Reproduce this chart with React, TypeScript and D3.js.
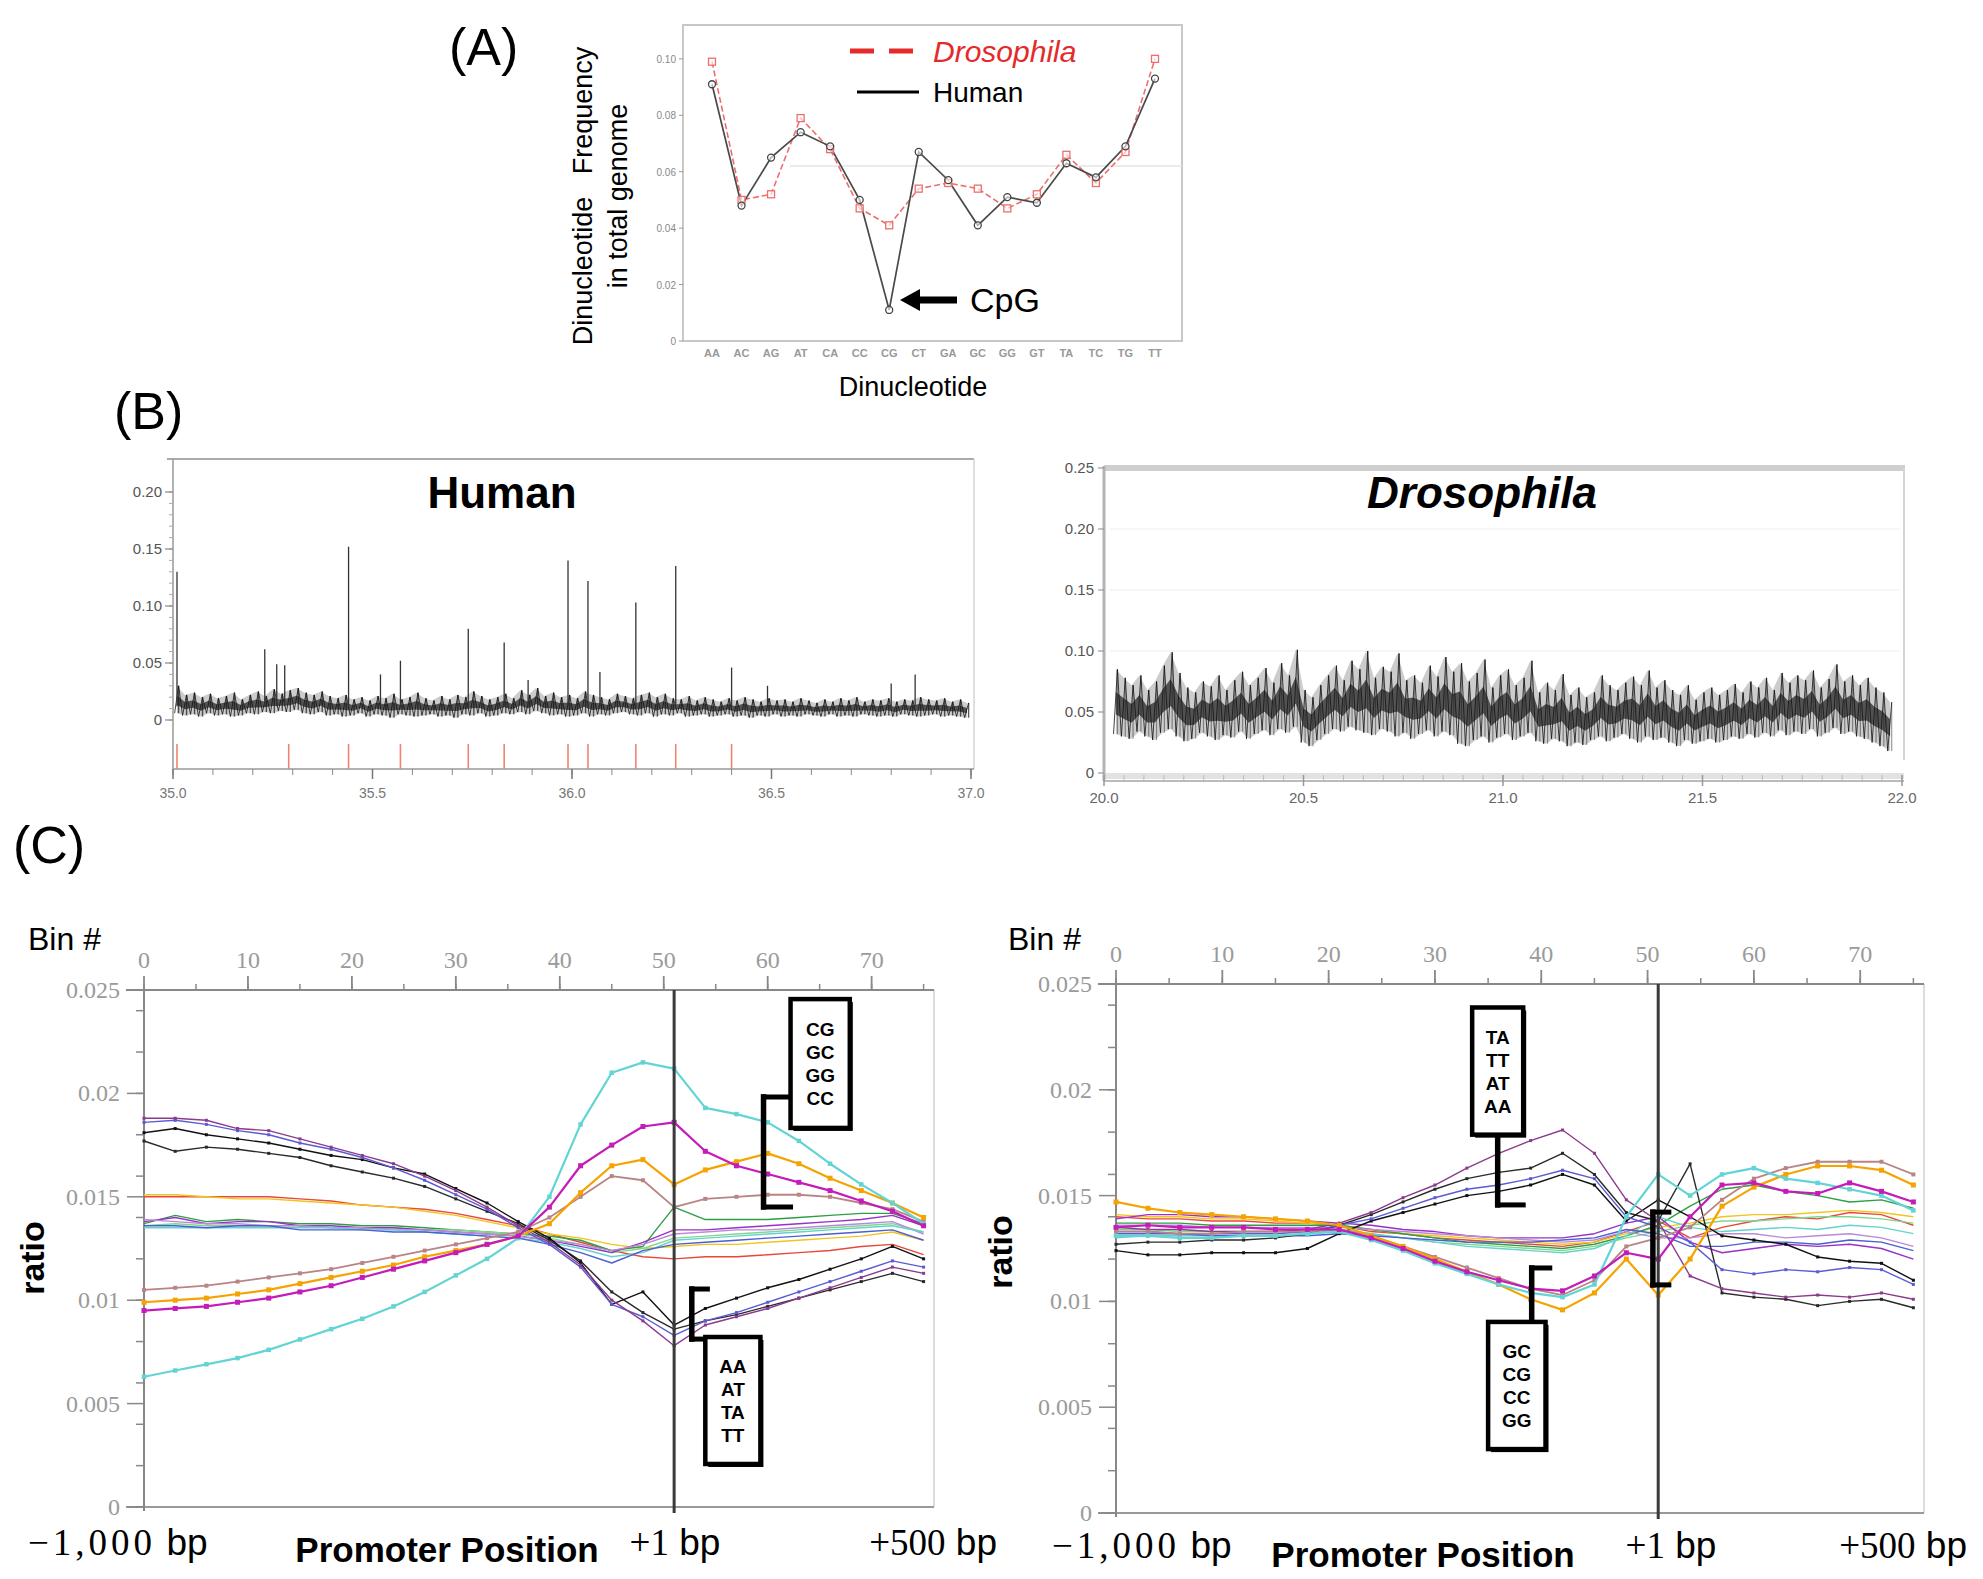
import { useEffect, useRef } from "react"
import * as d3 from "d3"

const W = 1983
const H = 1579
const SANS = "'Liberation Sans', Arial, Helvetica, sans-serif"
const SERIF = "'Liberation Serif', 'Times New Roman', serif"

// ---------- (A) dinucleotide frequency in total genome
const dinucleotides = ["AA", "AC", "AG", "AT", "CA", "CC", "CG", "CT", "GA", "GC", "GG", "GT", "TA", "TC", "TG", "TT"]
const humanGenomeFreq = [0.091, 0.048, 0.065, 0.074, 0.069, 0.05, 0.011, 0.067, 0.057, 0.041, 0.051, 0.049, 0.063, 0.058, 0.069, 0.093]
const flyGenomeFreq = [0.099, 0.05, 0.052, 0.079, 0.068, 0.047, 0.041, 0.054, 0.056, 0.054, 0.047, 0.052, 0.066, 0.056, 0.067, 0.1]
const freqTicks = [0, 0.02, 0.04, 0.06, 0.08, 0.1]
const freqTickLabels = ["0", "0.02", "0.04", "0.06", "0.08", "0.10"]

// ---------- (B) CpG ratio along chromosome (binned min / max of the trace)
const humanMbTicks = [35.0, 35.5, 36.0, 36.5, 37.0]
const humanRatioTicks = [0, 0.05, 0.1, 0.15, 0.2]
const humanTraceHi = [
    0.030, 0.022, 0.024, 0.020, 0.023, 0.019, 0.021, 0.024, 0.018, 0.022,
    0.025, 0.021, 0.027, 0.023, 0.026, 0.028, 0.024, 0.022, 0.025, 0.021,
    0.019, 0.022, 0.018, 0.020, 0.017, 0.021, 0.019, 0.023, 0.018, 0.020,
    0.024, 0.019, 0.017, 0.021, 0.018, 0.022, 0.020, 0.025, 0.021, 0.018,
    0.020, 0.023, 0.019, 0.026, 0.022, 0.028, 0.021, 0.024, 0.020, 0.022,
    0.019, 0.025, 0.022, 0.020, 0.018, 0.023, 0.021, 0.019, 0.022, 0.024,
    0.020, 0.023, 0.019, 0.018, 0.021, 0.017, 0.020, 0.018, 0.016, 0.019,
    0.017, 0.020, 0.018, 0.016, 0.019, 0.017, 0.018, 0.016, 0.019, 0.017,
    0.015, 0.018, 0.016, 0.019, 0.017, 0.020, 0.016, 0.018, 0.017, 0.019,
    0.016, 0.018, 0.017, 0.020, 0.018, 0.017, 0.019, 0.016, 0.018, 0.015,
]
const humanTraceLo = [
    0.006, 0.004, 0.005, 0.003, 0.006, 0.004, 0.005, 0.003, 0.004, 0.006,
    0.005, 0.007, 0.006, 0.008, 0.007, 0.009, 0.006, 0.005, 0.007, 0.004,
    0.005, 0.003, 0.004, 0.006, 0.003, 0.005, 0.004, 0.002, 0.005, 0.004,
    0.003, 0.004, 0.005, 0.003, 0.004, 0.002, 0.005, 0.004, 0.006, 0.003,
    0.004, 0.006, 0.005, 0.007, 0.005, 0.008, 0.006, 0.004, 0.005, 0.003,
    0.004, 0.006, 0.003, 0.005, 0.004, 0.006, 0.007, 0.005, 0.004, 0.006,
    0.003, 0.005, 0.004, 0.006, 0.003, 0.004, 0.005, 0.003, 0.004, 0.005,
    0.003, 0.004, 0.002, 0.004, 0.003, 0.005, 0.003, 0.004, 0.003, 0.005,
    0.004, 0.003, 0.005, 0.003, 0.004, 0.003, 0.005, 0.004, 0.003, 0.004,
    0.003, 0.005, 0.004, 0.003, 0.004, 0.005, 0.003, 0.004, 0.003, 0.002,
]
const humanSpikeMb = [35.01, 35.23, 35.26, 35.28, 35.44, 35.52, 35.57, 35.74, 35.83, 35.89, 35.99, 36.04, 36.07, 36.16, 36.26, 36.4, 36.49, 36.8, 36.86]
const humanSpikeRatio = [0.13, 0.062, 0.049, 0.048, 0.152, 0.04, 0.052, 0.08, 0.068, 0.035, 0.14, 0.122, 0.042, 0.103, 0.135, 0.046, 0.03, 0.032, 0.04]
const humanIslandMb = [35.01, 35.29, 35.44, 35.57, 35.74, 35.83, 35.99, 36.04, 36.16, 36.26, 36.4]

const flyMbTicks = [20.0, 20.5, 21.0, 21.5, 22.0]
const flyRatioTicks = [0, 0.05, 0.1, 0.15, 0.2, 0.25]
const flyTraceHi = [
    0.085, 0.078, 0.072, 0.080, 0.068, 0.075, 0.088, 0.099, 0.082, 0.070,
    0.066, 0.075, 0.071, 0.080, 0.068, 0.076, 0.083, 0.072, 0.078, 0.086,
    0.074, 0.090, 0.080, 0.101, 0.068, 0.062, 0.072, 0.080, 0.088, 0.076,
    0.092, 0.085, 0.100, 0.078, 0.087, 0.083, 0.098, 0.076, 0.080, 0.074,
    0.088, 0.079, 0.095, 0.083, 0.090, 0.075, 0.082, 0.093, 0.070, 0.080,
    0.085, 0.072, 0.078, 0.092, 0.066, 0.074, 0.068, 0.081, 0.064, 0.070,
    0.062, 0.066, 0.080, 0.072, 0.068, 0.074, 0.079, 0.072, 0.084, 0.070,
    0.076, 0.068, 0.064, 0.072, 0.060, 0.066, 0.070, 0.064, 0.068, 0.073,
    0.066, 0.075, 0.070, 0.078, 0.068, 0.082, 0.074, 0.080, 0.076, 0.084,
    0.070, 0.077, 0.089, 0.075, 0.080, 0.072, 0.078, 0.070, 0.066, 0.058,
]
const flyTraceLo = [
    0.032, 0.030, 0.028, 0.034, 0.030, 0.027, 0.033, 0.036, 0.030, 0.026,
    0.028, 0.033, 0.030, 0.027, 0.031, 0.029, 0.034, 0.028, 0.032, 0.035,
    0.031, 0.036, 0.033, 0.038, 0.025, 0.022, 0.027, 0.032, 0.036, 0.034,
    0.038, 0.035, 0.033, 0.031, 0.036, 0.034, 0.030, 0.033, 0.028, 0.032,
    0.035, 0.030, 0.034, 0.031, 0.024, 0.022, 0.027, 0.030, 0.025, 0.029,
    0.032, 0.027, 0.030, 0.033, 0.026, 0.024, 0.028, 0.026, 0.022, 0.025,
    0.023, 0.027, 0.030, 0.026, 0.029, 0.032, 0.028, 0.025, 0.030, 0.027,
    0.029, 0.025, 0.022, 0.027, 0.024, 0.026, 0.028, 0.025, 0.027, 0.030,
    0.028, 0.032, 0.029, 0.033, 0.030, 0.035, 0.031, 0.034, 0.032, 0.036,
    0.030, 0.033, 0.037, 0.032, 0.034, 0.030, 0.028, 0.025, 0.022, 0.018,
]

// ---------- (C) dinucleotide ratio across promoter bins
const bins = [0, 3, 6, 9, 12, 15, 18, 21, 24, 27, 30, 33, 36, 39, 42, 45, 48, 51, 54, 57, 60, 63, 66, 69, 72, 75]
const binTicks = [0, 10, 20, 30, 40, 50, 60, 70]
const ratioTicks = [0, 0.005, 0.01, 0.015, 0.02, 0.025]
const ratioTickLabels = ["0", "0.005", "0.01", "0.015", "0.02", "0.025"]
const tssBin = 51

const humanTT = [0.0188, 0.0188, 0.0187, 0.0183, 0.0182, 0.0178, 0.0174, 0.017, 0.0166, 0.016, 0.0153, 0.0145, 0.0136, 0.0128, 0.0117, 0.01, 0.009, 0.0078, 0.0088, 0.0092, 0.0096, 0.0101, 0.0106, 0.0111, 0.0116, 0.0113]
const humanAA = [0.0186, 0.0187, 0.0185, 0.0182, 0.018, 0.0176, 0.0173, 0.0169, 0.0164, 0.0158, 0.0151, 0.0144, 0.0135, 0.0127, 0.0116, 0.0098, 0.0092, 0.0083, 0.009, 0.0094, 0.0099, 0.0104, 0.0109, 0.0114, 0.0119, 0.0116]
const humanAT = [0.0181, 0.0183, 0.018, 0.0178, 0.0176, 0.0173, 0.017, 0.0168, 0.0164, 0.0161, 0.0154, 0.0147, 0.0138, 0.013, 0.0118, 0.0098, 0.0104, 0.0088, 0.0096, 0.0101, 0.0106, 0.011, 0.0115, 0.012, 0.0126, 0.012]
const humanTA = [0.0177, 0.0172, 0.0174, 0.0173, 0.0171, 0.0169, 0.0165, 0.0162, 0.0159, 0.0155, 0.0149, 0.0143, 0.0137, 0.0129, 0.0119, 0.0104, 0.0094, 0.0086, 0.009, 0.0093, 0.0097, 0.0101, 0.0105, 0.0109, 0.0113, 0.0109]
const humanCA = [0.015, 0.015, 0.015, 0.015, 0.015, 0.0149, 0.0148, 0.0146, 0.0145, 0.0144, 0.0142, 0.0139, 0.0136, 0.0132, 0.0128, 0.0124, 0.0121, 0.012, 0.0121, 0.0121, 0.0122, 0.0123, 0.0124, 0.0126, 0.0127, 0.0122]
const humanTG = [0.0151, 0.0151, 0.015, 0.0149, 0.0149, 0.0148, 0.0147, 0.0146, 0.0145, 0.0143, 0.0141, 0.0138, 0.0135, 0.0132, 0.013, 0.0127, 0.0125, 0.0126, 0.0127, 0.0127, 0.0128, 0.0129, 0.013, 0.0131, 0.0133, 0.0129]
const humanAG = [0.0137, 0.0141, 0.0138, 0.0139, 0.0138, 0.0137, 0.0137, 0.0136, 0.0136, 0.0135, 0.0134, 0.0133, 0.0132, 0.0131, 0.0129, 0.0124, 0.0126, 0.0145, 0.0139, 0.0139, 0.0139, 0.014, 0.0141, 0.0142, 0.0142, 0.0137]
const humanCT = [0.0136, 0.0137, 0.0136, 0.0136, 0.0136, 0.0136, 0.0135, 0.0135, 0.0135, 0.0134, 0.0134, 0.0133, 0.0132, 0.013, 0.0127, 0.0123, 0.0125, 0.013, 0.0131, 0.0132, 0.0133, 0.0134, 0.0135, 0.0136, 0.0137, 0.0133]
const humanGA = [0.0138, 0.014, 0.0137, 0.0138, 0.0138, 0.0136, 0.0136, 0.0135, 0.0135, 0.0134, 0.0133, 0.0132, 0.0131, 0.0129, 0.0126, 0.0123, 0.0128, 0.0134, 0.0134, 0.0135, 0.0136, 0.0137, 0.0138, 0.0139, 0.0141, 0.0136]
const humanTC = [0.0139, 0.0138, 0.0137, 0.0137, 0.0136, 0.0136, 0.0135, 0.0135, 0.0134, 0.0134, 0.0133, 0.0132, 0.0131, 0.0129, 0.0127, 0.0124, 0.0127, 0.0132, 0.0133, 0.0134, 0.0134, 0.0135, 0.0136, 0.0137, 0.0138, 0.0132]
const humanAC = [0.0135, 0.0135, 0.0135, 0.0135, 0.0135, 0.0135, 0.0135, 0.0134, 0.0134, 0.0133, 0.0132, 0.0131, 0.013, 0.0128, 0.0125, 0.0121, 0.0123, 0.0129, 0.013, 0.0131, 0.0132, 0.0133, 0.0134, 0.0135, 0.0136, 0.0133]
const humanGT = [0.0136, 0.0136, 0.0135, 0.0136, 0.0136, 0.0134, 0.0134, 0.0134, 0.0133, 0.0133, 0.0132, 0.0131, 0.013, 0.0127, 0.0123, 0.0118, 0.0124, 0.0127, 0.0128, 0.0129, 0.013, 0.0131, 0.0132, 0.0133, 0.0134, 0.0129]
const humanGG = [0.0105, 0.0106, 0.0107, 0.0109, 0.0111, 0.0113, 0.0115, 0.0118, 0.0121, 0.0124, 0.0127, 0.013, 0.0133, 0.014, 0.015, 0.016, 0.0158, 0.0145, 0.0149, 0.015, 0.0151, 0.0151, 0.015, 0.0147, 0.0144, 0.0138]
const humanGC = [0.0099, 0.01, 0.0101, 0.0103, 0.0105, 0.0108, 0.0111, 0.0114, 0.0117, 0.0121, 0.0124, 0.0127, 0.0131, 0.0137, 0.0152, 0.0165, 0.0168, 0.0156, 0.0163, 0.0167, 0.0171, 0.0166, 0.0159, 0.0153, 0.0147, 0.014]
const humanCG = [0.0095, 0.0096, 0.0097, 0.0099, 0.0101, 0.0104, 0.0107, 0.0111, 0.0115, 0.0119, 0.0123, 0.0127, 0.0131, 0.0145, 0.0165, 0.0175, 0.0184, 0.0186, 0.0172, 0.0165, 0.0161, 0.0157, 0.0153, 0.0148, 0.0143, 0.0136]
const humanCC = [0.0063, 0.0066, 0.0069, 0.0072, 0.0076, 0.0081, 0.0086, 0.0091, 0.0097, 0.0104, 0.0112, 0.012, 0.013, 0.015, 0.0185, 0.021, 0.0215, 0.0212, 0.0193, 0.019, 0.0186, 0.0177, 0.0166, 0.0156, 0.0147, 0.0137]

const flyTT = [0.0135, 0.0134, 0.0134, 0.0133, 0.0133, 0.0133, 0.0134, 0.0137, 0.0142, 0.0149, 0.0155, 0.0163, 0.017, 0.0176, 0.0181, 0.017, 0.0148, 0.0138, 0.0112, 0.0106, 0.0104, 0.0102, 0.0103, 0.0102, 0.0104, 0.0101]
const flyTA = [0.0127, 0.0128, 0.0128, 0.0129, 0.0129, 0.013, 0.0132, 0.0136, 0.0141, 0.0147, 0.0153, 0.0158, 0.0161, 0.0163, 0.017, 0.016, 0.0142, 0.0138, 0.0165, 0.0104, 0.0102, 0.0101, 0.0098, 0.01, 0.0101, 0.0097]
const flyAA = [0.0133, 0.0133, 0.0132, 0.0132, 0.0132, 0.0132, 0.0133, 0.0136, 0.0139, 0.0144, 0.0149, 0.0153, 0.0155, 0.0158, 0.0162, 0.0158, 0.014, 0.0135, 0.0128, 0.0115, 0.0113, 0.0115, 0.0114, 0.0116, 0.0115, 0.0108]
const flyAT = [0.0124, 0.0122, 0.0122, 0.0123, 0.0123, 0.0123, 0.0125, 0.0132, 0.0138, 0.0142, 0.0146, 0.015, 0.0152, 0.0155, 0.016, 0.0155, 0.0138, 0.0148, 0.014, 0.0131, 0.0129, 0.0127, 0.0121, 0.0119, 0.0118, 0.011]
const flyCA = [0.014, 0.0139, 0.0139, 0.0138, 0.0138, 0.0137, 0.0137, 0.0136, 0.0133, 0.0132, 0.013, 0.0129, 0.0128, 0.0127, 0.0126, 0.0128, 0.0133, 0.0138, 0.013, 0.0135, 0.0138, 0.014, 0.0139, 0.0142, 0.0141, 0.0136]
const flyTG = [0.0141, 0.014, 0.014, 0.0139, 0.0139, 0.0138, 0.0137, 0.0136, 0.0134, 0.0132, 0.0131, 0.013, 0.0129, 0.0128, 0.0127, 0.0128, 0.0132, 0.0135, 0.0137, 0.014, 0.0141, 0.0141, 0.0142, 0.0143, 0.0142, 0.014]
const flyAG = [0.0137, 0.0137, 0.0137, 0.0136, 0.0136, 0.0136, 0.0136, 0.0136, 0.0134, 0.0132, 0.013, 0.0128, 0.0127, 0.0126, 0.0125, 0.0127, 0.0131, 0.0136, 0.0145, 0.0153, 0.0155, 0.0152, 0.015, 0.0147, 0.0148, 0.0144]
const flyCT = [0.0134, 0.0134, 0.0133, 0.0133, 0.0133, 0.0133, 0.0133, 0.0134, 0.0132, 0.013, 0.0128, 0.0127, 0.0126, 0.0125, 0.0124, 0.0126, 0.013, 0.0133, 0.0136, 0.0138, 0.0138, 0.0139, 0.014, 0.014, 0.0139, 0.0137]
const flyGA = [0.0139, 0.0141, 0.0141, 0.014, 0.014, 0.0139, 0.0138, 0.0137, 0.0136, 0.0134, 0.0133, 0.0131, 0.013, 0.013, 0.013, 0.0132, 0.0137, 0.014, 0.0128, 0.0123, 0.0125, 0.0127, 0.0126, 0.0127, 0.0125, 0.012]
const flyTC = [0.0136, 0.0136, 0.0136, 0.0135, 0.0135, 0.0135, 0.0135, 0.0135, 0.0134, 0.0133, 0.0132, 0.0131, 0.013, 0.0129, 0.0128, 0.0129, 0.0133, 0.013, 0.013, 0.0132, 0.0132, 0.013, 0.0131, 0.0132, 0.013, 0.0126]
const flyAC = [0.013, 0.0131, 0.0131, 0.0131, 0.0131, 0.0131, 0.0132, 0.0134, 0.0132, 0.013, 0.0128, 0.0126, 0.0125, 0.0124, 0.0123, 0.0125, 0.0131, 0.014, 0.0135, 0.0133, 0.0134, 0.0135, 0.0134, 0.0136, 0.0135, 0.0132]
const flyGT = [0.0132, 0.0132, 0.0132, 0.0131, 0.0131, 0.0131, 0.0131, 0.0132, 0.0131, 0.013, 0.0129, 0.0128, 0.0128, 0.0128, 0.0129, 0.013, 0.0134, 0.0132, 0.0126, 0.0126, 0.0128, 0.0128, 0.0127, 0.0129, 0.0128, 0.0124]
const flyGG = [0.0133, 0.0133, 0.0132, 0.0132, 0.0133, 0.0133, 0.0133, 0.0134, 0.0131, 0.0126, 0.0121, 0.0116, 0.0111, 0.0106, 0.0103, 0.011, 0.0126, 0.013, 0.0135, 0.0148, 0.0158, 0.0163, 0.0166, 0.0166, 0.0166, 0.016]
const flyGC = [0.0147, 0.0144, 0.0142, 0.0141, 0.014, 0.0139, 0.0138, 0.0136, 0.0131, 0.0126, 0.012, 0.0114, 0.0108, 0.0101, 0.0096, 0.0104, 0.012, 0.0103, 0.012, 0.0145, 0.0154, 0.016, 0.0164, 0.0164, 0.0162, 0.0155]
const flyCG = [0.0135, 0.0136, 0.0135, 0.0135, 0.0135, 0.0134, 0.0134, 0.0134, 0.013, 0.0125, 0.0119, 0.0114, 0.011, 0.0106, 0.0105, 0.0112, 0.0123, 0.012, 0.014, 0.0155, 0.0156, 0.0152, 0.0151, 0.0156, 0.0152, 0.0147]
const flyCC = [0.0131, 0.0131, 0.013, 0.013, 0.0131, 0.0131, 0.0132, 0.0133, 0.0129, 0.0124, 0.0118, 0.0113, 0.0108, 0.0104, 0.0102, 0.0108, 0.014, 0.016, 0.015, 0.016, 0.0163, 0.0158, 0.0156, 0.0153, 0.015, 0.0143]

// drawing order: thin middle lines, then A/T group, then G/C group on top
const seriesOrder = ["CA", "TG", "AG", "CT", "GA", "TC", "AC", "GT", "TA", "AT", "AA", "TT", "GG", "GC", "CC", "CG"]
const seriesStyle = {
    CA: { color: "#e8483a", width: 1.4, marker: 0 },
    TG: { color: "#f2c51e", width: 1.4, marker: 0 },
    AG: { color: "#2e9e44", width: 1.4, marker: 0 },
    CT: { color: "#80d890", width: 1.4, marker: 0 },
    GA: { color: "#9a30c8", width: 1.4, marker: 0 },
    TC: { color: "#b98ad8", width: 1.4, marker: 0 },
    AC: { color: "#66d2cc", width: 1.4, marker: 0 },
    GT: { color: "#4a5fd0", width: 1.4, marker: 0 },
    TA: { color: "#2a2a2a", width: 1.4, marker: 3 },
    AT: { color: "#111111", width: 1.4, marker: 3 },
    AA: { color: "#5b5bd2", width: 1.4, marker: 3 },
    TT: { color: "#8c3a8e", width: 1.4, marker: 3 },
    GG: { color: "#b98484", width: 1.8, marker: 4 },
    GC: { color: "#f5a300", width: 2.2, marker: 5 },
    CC: { color: "#62d4d4", width: 2.2, marker: 4.5 },
    CG: { color: "#c41cb8", width: 2.2, marker: 5 },
}
const humanProfile = {
    TT: humanTT, AA: humanAA, AT: humanAT, TA: humanTA, CA: humanCA, TG: humanTG, AG: humanAG, CT: humanCT,
    GA: humanGA, TC: humanTC, AC: humanAC, GT: humanGT, GG: humanGG, GC: humanGC, CG: humanCG, CC: humanCC,
}
const flyProfile = {
    TT: flyTT, AA: flyAA, AT: flyAT, TA: flyTA, CA: flyCA, TG: flyTG, AG: flyAG, CT: flyCT,
    GA: flyGA, TC: flyTC, AC: flyAC, GT: flyGT, GG: flyGG, GC: flyGC, CG: flyCG, CC: flyCC,
}

const humanUpBox = ["CG", "GC", "GG", "CC"]
const humanDownBox = ["AA", "AT", "TA", "TT"]
const flyUpBox = ["TA", "TT", "AT", "AA"]
const flyDownBox = ["GC", "CG", "CC", "GG"]

const leftProfile = {
    left: 144, right: 934, top: 990, bottom: 1507,
    binLabel: [28, 950], ratioLabel: [44, 1258], base: 1555, promoterX: 447, promoterY: 1562,
    minusX: 28, plusOneX: 675, plusEndX: 997,
    boxes: [
        { x0: 62.2, x1: 67.9, top: 0.02456, bottom: 0.01833, labels: humanUpBox },
        { x0: 54.0, x1: 59.3, top: 0.00822, bottom: 0.00208, labels: humanDownBox },
    ],
    brackets: [
        { x: 59.6, top: 0.01983, bottom: 0.01451, topTo: 62.2, bottomTo: 62.2 },
        { x: 52.7, top: 0.01054, bottom: 0.00812, topTo: 54.2, bottomTo: 54.0 },
    ],
}
const rightProfile = {
    left: 1116, right: 1924, top: 984, bottom: 1513,
    binLabel: [1008, 950], ratioLabel: [1012, 1252], base: 1558, promoterX: 1423, promoterY: 1567,
    minusX: 1052, plusOneX: 1671, plusEndX: 1967,
    boxes: [
        { x0: 33.5, x1: 38.3, top: 0.02389, bottom: 0.01788, labels: flyUpBox },
        { x0: 35.0, x1: 40.4, top: 0.00903, bottom: 0.00302, labels: flyDownBox },
    ],
    brackets: [
        { x: 35.9, top: 0.01788, bottom: 0.01456, topTo: null, bottomTo: 38.3 },
        { x: 39.1, top: 0.01158, bottom: 0.00903, topTo: 40.8, bottomTo: 39.1 },
        { x: 50.5, top: 0.01422, bottom: 0.01078, topTo: 52.0, bottomTo: 52.0 },
    ],
}

function line(g, x1, y1, x2, y2, stroke, width) {
    return g.append("line")
        .attr("x1", x1).attr("y1", y1).attr("x2", x2).attr("y2", y2)
        .attr("stroke", stroke).attr("stroke-width", width)
}

function text(g, x, y, str, size, opts: any = {}) {
    return g.append("text")
        .attr("x", x).attr("y", y)
        .attr("font-family", opts.family || SANS)
        .attr("font-size", size)
        .attr("font-weight", opts.weight || "normal")
        .attr("font-style", opts.style || "normal")
        .attr("fill", opts.fill || "#000")
        .attr("text-anchor", opts.anchor || "start")
        .text(str)
}

function drawGenomeFreq(svg) {
    const g = svg.append("g")
    const x = d3.scalePoint().domain(dinucleotides).range([712, 1155])
    const y = d3.scaleLinear().domain([0, 0.112]).range([341, 25])

    g.append("rect").attr("x", 683).attr("y", 25).attr("width", 499).attr("height", 316)
        .attr("fill", "none").attr("stroke", "#c8c8c8").attr("stroke-width", 2)
    line(g, 790, y(0.062), 1182, y(0.062), "#e4e4e4", 1.5)

    freqTicks.forEach((t, i) => {
        line(g, 679, y(t), 683, y(t), "#999", 1)
        text(g, 676, y(t) + 4, freqTickLabels[i], 10, { anchor: "end", fill: "#888" })
    })
    dinucleotides.forEach(d => {
        text(g, x(d), 357, d, 11, { anchor: "middle", fill: "#999", weight: "bold" })
    })

    const fly = dinucleotides.map((d, i) => [x(d), y(flyGenomeFreq[i])])
    const human = dinucleotides.map((d, i) => [x(d), y(humanGenomeFreq[i])])
    g.append("path").attr("d", d3.line()(fly)).attr("fill", "none")
        .attr("stroke", "#ee6e6e").attr("stroke-width", 1.6).attr("stroke-dasharray", "6,3")
    g.append("path").attr("d", d3.line()(human)).attr("fill", "none")
        .attr("stroke", "#4a4a4a").attr("stroke-width", 1.7)
    g.selectAll(".flyPt").data(fly).join("rect")
        .attr("x", d => d[0] - 3.5).attr("y", d => d[1] - 3.5).attr("width", 7).attr("height", 7)
        .attr("fill", "#fff").attr("fill-opacity", 0.6).attr("stroke", "#ee6e6e").attr("stroke-width", 1.3)
    g.selectAll(".humanPt").data(human).join("circle")
        .attr("cx", d => d[0]).attr("cy", d => d[1]).attr("r", 3.5)
        .attr("fill", "#fff").attr("fill-opacity", 0.6).attr("stroke", "#444").attr("stroke-width", 1.3)

    // legend
    g.append("rect").attr("x", 845).attr("y", 27).attr("width", 250).attr("height", 90).attr("fill", "#fff")
    line(g, 850, 51, 913, 51, "#e42a2a", 5).attr("stroke-dasharray", "24,15")
    text(g, 933, 62, "Drosophila", 30, { style: "italic", fill: "#e42a2a" })
    line(g, 857, 92, 919, 92, "#000", 3)
    text(g, 933, 102, "Human", 28)

    // CpG callout
    line(g, 957, 300, 914, 300, "#000", 7)
    g.append("path").attr("d", "M900,300 L920,289 L920,311 Z").attr("fill", "#000")
    text(g, 970, 312, "CpG", 34)

    text(g, 913, 396, "Dinucleotide", 27, { anchor: "middle" })
    g.append("text").attr("transform", "translate(592,196) rotate(-90)")
        .attr("text-anchor", "middle").attr("font-family", SANS).attr("font-size", 27)
        .text("Dinucleotide\u00a0\u00a0\u00a0Frequency")
    g.append("text").attr("transform", "translate(627,196) rotate(-90)")
        .attr("text-anchor", "middle").attr("font-family", SANS).attr("font-size", 27)
        .text("in total genome")
}

// dense signal drawn from binned extremes: faint envelope, per-bin strokes, dark core, zigzag
function drawTrace(g, x0, x1, y, hi, lo, strokeW, strokeOpacity) {
    const xi = d3.scaleLinear().domain([0, hi.length]).range([x0, x1])
    const idx = hi.map((_, i) => i)
    const envelope = d3.area()
        .x(i => xi(i + 0.5))
        .y0(i => y(lo[i]))
        .y1(i => y(hi[i]))
    g.append("path").attr("d", envelope(idx)).attr("fill", "#000").attr("fill-opacity", 0.2)
    idx.forEach(i => line(g, xi(i + 0.7), y(lo[i]), xi(i + 0.7), y(hi[i]), "#222", strokeW).attr("stroke-opacity", strokeOpacity))
    const core = d3.area()
        .x(i => xi(i + 0.5))
        .y0(i => y(lo[i] + (hi[i] - lo[i]) * 0.3))
        .y1(i => y(hi[i] - (hi[i] - lo[i]) * 0.35))
    g.append("path").attr("d", core(idx)).attr("fill", "#111").attr("fill-opacity", 0.65)
    const pts = []
    idx.forEach(i => {
        pts.push([xi(i + 0.2), y(lo[i])])
        pts.push([xi(i + 0.7), y(hi[i])])
    })
    g.append("path").attr("d", d3.line()(pts)).attr("fill", "none")
        .attr("stroke", "#111").attr("stroke-width", 0.8)
}

function drawHumanTrack(svg) {
    const g = svg.append("g")
    const x = d3.scaleLinear().domain([35, 37]).range([173, 971])
    const y = d3.scaleLinear().domain([0, 0.2]).range([720, 492])

    line(g, 167, 459, 974, 459, "#aaa", 2)
    line(g, 974, 459, 974, 769, "#d4d4d4", 1.5)
    line(g, 173, 459, 173, 769, "#999", 1.5)
    line(g, 173, 769, 974, 769, "#999", 1.5)

    y.ticks(20).forEach(t => line(g, 169, y(t), 173, y(t), "#aaa", 1))
    humanRatioTicks.forEach(t => {
        line(g, 165, y(t), 173, y(t), "#888", 1.2)
        text(g, 162, y(t) + 5, t === 0 ? "0" : d3.format(".2f")(t), 15, { anchor: "end", fill: "#555" })
    })
    x.ticks(20).forEach(t => line(g, x(t), 769, x(t), 775, "#888", 1))
    humanMbTicks.forEach(t => {
        line(g, x(t), 769, x(t), 779, "#777", 1.5)
        text(g, x(t), 798, d3.format(".1f")(t), 14, { anchor: "middle", fill: "#777" })
    })

    humanIslandMb.forEach(m => line(g, x(m), 744, x(m), 769, "#f08470", 1.6))

    drawTrace(g, x(35), x(37), y, humanTraceHi, humanTraceLo, 1.4, 0.75)
    humanSpikeMb.forEach((m, i) => line(g, x(m), y(0.012), x(m), y(humanSpikeRatio[i]), "#333", 1.3))

    text(g, 502, 508, "Human", 44, { anchor: "middle", weight: "bold" })
}

function drawFlyTrack(svg) {
    const g = svg.append("g")
    const x = d3.scaleLinear().domain([20, 22]).range([1104, 1902])
    const y = d3.scaleLinear().domain([0, 0.25]).range([773, 468])

    line(g, 1104, 468, 1905, 468, "#cfcfcf", 6)
    line(g, 1904, 468, 1904, 760, "#d4d4d4", 2)
    line(g, 1104, 776, 1904, 776, "#e2e2e2", 6)
    line(g, 1104, 466, 1104, 781, "#b4b4b4", 3)
    line(g, 1104, 781, 1904, 781, "#bbb", 2)
    ;[0.1, 0.15, 0.2].forEach(t => line(g, 1110, y(t), 1900, y(t), "#f3f3f3", 1.5))

    flyRatioTicks.forEach(t => {
        line(g, 1098, y(t), 1104, y(t), "#999", 1.2)
        text(g, 1094, y(t) + 5, t === 0 ? "0" : d3.format(".2f")(t), 15, { anchor: "end", fill: "#555" })
    })
    x.ticks(40).forEach(t => line(g, x(t), 775, x(t), 781, "#bbb", 1))
    flyMbTicks.forEach(t => {
        line(g, x(t), 775, x(t), 786, "#999", 1.5)
        text(g, x(t), 803, d3.format(".1f")(t), 15, { anchor: "middle", fill: "#666" })
    })

    drawTrace(g, x(20.02), x(21.98), y, flyTraceHi, flyTraceLo, 1.2, 0.45)

    text(g, 1482, 508, "Drosophila", 44, { anchor: "middle", weight: "bold", style: "italic" })
}

function drawProfile(svg, data, cfg) {
    const g = svg.append("g")
    const x = d3.scaleLinear().domain([0, 76]).range([cfg.left, cfg.right])
    const y = d3.scaleLinear().domain([0, 0.025]).range([cfg.bottom, cfg.top])

    line(g, x(76), y(0.025), x(76), y(0), "#d0d0d0", 1.5)
    line(g, x(0) - 18, y(0), x(76), y(0), "#999", 2)
    line(g, x(0) - 18, y(0.025), x(76), y(0.025), "#888", 2)
    line(g, x(0), y(0.025), x(0), y(0) + 4, "#888", 2)

    y.ticks(10).forEach(t => line(g, x(0) - 8, y(t), x(0), y(t), "#888", 1.5))
    ratioTicks.forEach((t, i) => {
        line(g, x(0) - 17, y(t), x(0), y(t), "#888", 1.5)
        text(g, x(0) - 24, y(t) + 8, ratioTickLabels[i], 24, { anchor: "end", family: SERIF, fill: "#9a9a9a" })
    })
    x.ticks(16).filter(t => t <= 75).forEach(t => line(g, x(t), y(0.025) - 6, x(t), y(0.025), "#888", 1.5))
    binTicks.forEach(t => {
        line(g, x(t), y(0.025) - 14, x(t), y(0.025), "#888", 1.8)
        text(g, x(t), y(0.025) - 22, String(t), 24, { anchor: "middle", family: SERIF, fill: "#9a9a9a" })
    })

    seriesOrder.forEach(key => {
        const st = seriesStyle[key]
        const pts = bins.map((b, i) => [x(b), y(data[key][i])])
        g.append("path").attr("d", d3.line()(pts)).attr("fill", "none")
            .attr("stroke", st.color).attr("stroke-width", st.width).attr("stroke-linejoin", "round")
        if (st.marker > 0) {
            g.append("g").selectAll("rect").data(pts).join("rect")
                .attr("x", d => d[0] - st.marker / 2).attr("y", d => d[1] - st.marker / 2)
                .attr("width", st.marker).attr("height", st.marker).attr("fill", st.color)
        }
    })

    line(g, x(tssBin), y(0.025), x(tssBin), y(0) + 6, "#3a3a3a", 3)

    cfg.brackets.forEach(b => {
        line(g, x(b.x), y(b.top), x(b.x), y(b.bottom), "#000", 5.5).attr("stroke-linecap", "square")
        if (b.topTo !== null) line(g, x(b.x), y(b.top), x(b.topTo), y(b.top), "#000", 5).attr("stroke-linecap", "square")
        if (b.bottomTo !== null) line(g, x(b.x), y(b.bottom), x(b.bottomTo), y(b.bottom), "#000", 5).attr("stroke-linecap", "square")
    })
    cfg.boxes.forEach(b => {
        const bx = x(b.x0), by = y(b.top), bw = x(b.x1) - x(b.x0), bh = y(b.bottom) - y(b.top)
        g.append("rect").attr("x", bx + 3).attr("y", by + 3).attr("width", bw).attr("height", bh).attr("fill", "#000")
        g.append("rect").attr("x", bx).attr("y", by).attr("width", bw).attr("height", bh)
            .attr("fill", "#fff").attr("stroke", "#000").attr("stroke-width", 4.5)
        const cy = by + bh / 2
        b.labels.forEach((s, i) => {
            text(g, bx + bw / 2, cy + (i - 1.5) * 23 + 7, s, 19, { anchor: "middle", weight: "bold" })
        })
    })

    text(g, cfg.binLabel[0], cfg.binLabel[1], "Bin #", 32)
    g.append("text").attr("transform", `translate(${cfg.ratioLabel[0]},${cfg.ratioLabel[1]}) rotate(-90)`)
        .attr("text-anchor", "middle").attr("font-family", SANS).attr("font-size", 34).attr("font-weight", "bold")
        .text("ratio")

    const bp = (xx, anchor, num, spacing) => {
        const t = g.append("text").attr("x", xx).attr("y", cfg.base).attr("text-anchor", anchor).attr("font-size", 37)
        t.append("tspan").attr("font-family", SERIF).attr("letter-spacing", spacing).text(num)
        t.append("tspan").attr("font-family", SANS).attr("letter-spacing", 0).text(" bp")
    }
    bp(cfg.minusX, "start", "\u22121,000", 4)
    bp(cfg.plusOneX, "middle", "+1", 0)
    bp(cfg.plusEndX, "end", "+500", 0)
    text(g, cfg.promoterX, cfg.promoterY, "Promoter Position", 35, { anchor: "middle", weight: "bold" })
}

export default function App() {
    const ref = useRef(null)

    useEffect(() => {
        const svg = d3.select(ref.current)
        svg.selectAll("*").remove()
        svg.append("rect").attr("width", W).attr("height", H).attr("fill", "#fff")

        drawGenomeFreq(svg)
        drawHumanTrack(svg)
        drawFlyTrack(svg)
        drawProfile(svg, humanProfile, leftProfile)
        drawProfile(svg, flyProfile, rightProfile)

        text(svg, 449, 65, "(A)", 52)
        text(svg, 114, 429, "(B)", 52)
        text(svg, 13, 863, "(C)", 52)
    }, [])

    return (
        <svg
            ref={ref}
            width={W}
            height={H}
            style={{ position: "absolute", left: 0, top: 0, background: "#fff" }}
        />
    )
}
